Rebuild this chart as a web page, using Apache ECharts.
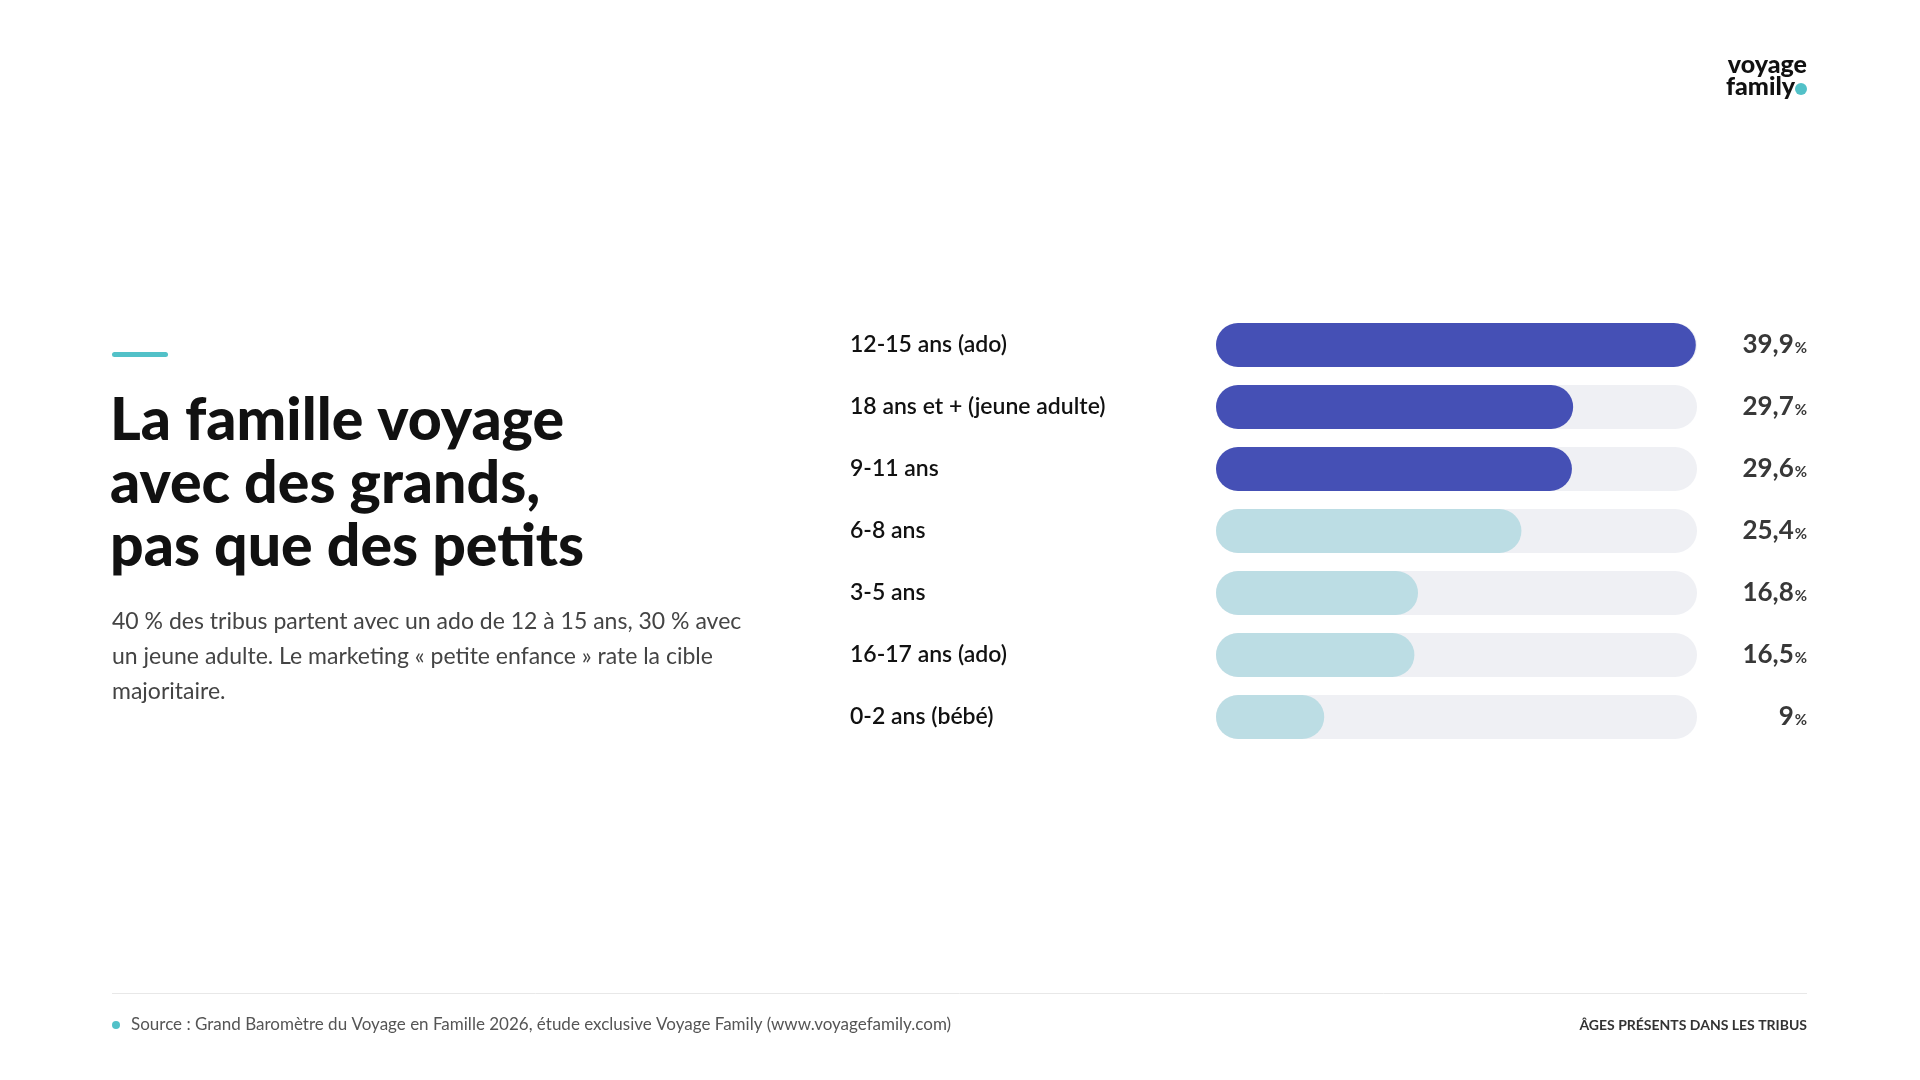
<!DOCTYPE html>
<html>
<head>
<meta charset="utf-8">
<title>Âges présents dans les tribus</title>
<script src="https://cdn.jsdelivr.net/npm/echarts@6/dist/echarts.min.js"></script>
<style>
  html, body { margin: 0; padding: 0; background: #fff; }
  #chart { width: 1920px; height: 1080px; }
</style>
</head>
<body>
<div id="chart"></div>
<script>
// données
const categories = ['12-15 ans (ado)', '18 ans et + (jeune adulte)', '9-11 ans', '6-8 ans', '3-5 ans', '16-17 ans (ado)', '0-2 ans (bébé)']
const values = [39.9, 29.7, 29.6, 25.4, 16.8, 16.5, 9]
const highlight = [true, true, true, false, false, false, false]

const FONT = 'Lato, "Noto Sans", sans-serif'
const DARK = '#4550b5'
const LIGHT = '#bcdde4'
const TRACK = '#eff0f4'
const TEAL = '#52c1c8'

const fmt = v => String(v).replace('.', ',')

let myChart = echarts.init(document.getElementById('chart'))

myChart.setOption({
    animation: false,
    backgroundColor: '#ffffff',
    grid: {
        left: 1216,
        width: 481,
        top: 314,
        height: 434,
        containLabel: false
    },
    xAxis: {
        type: 'value',
        min: 0,
        max: 40,
        show: false
    },
    yAxis: [
        {
            type: 'category',
            inverse: true,
            data: categories,
            axisLine: { show: false },
            axisTick: { show: false },
            splitLine: { show: false },
            axisLabel: {
                align: 'left',
                margin: 1216 - 850,
                color: '#111111',
                fontFamily: FONT,
                fontSize: 23,
                fontWeight: 600
            }
        },
        {
            type: 'category',
            inverse: true,
            position: 'right',
            data: values.map(fmt),
            axisLine: { show: false },
            axisTick: { show: false },
            splitLine: { show: false },
            axisLabel: {
                align: 'right',
                margin: 1807 - 1697,
                formatter: v => '{n|' + v + '}{p|%}',
                rich: {
                    n: { fontFamily: FONT, fontSize: 26, fontWeight: 'bold', color: '#383838' },
                    p: { fontFamily: FONT, fontSize: 15, fontWeight: 'bold', color: '#383838', padding: [6, 0, 0, 1] }
                }
            }
        }
    ],
    series: [
        {
            type: 'bar',
            yAxisIndex: 0,
            barWidth: 44,
            showBackground: true,
            backgroundStyle: {
                color: TRACK,
                borderRadius: 22
            },
            itemStyle: { borderRadius: 22 },
            data: values.map((v, i) => ({
                value: v,
                itemStyle: { color: highlight[i] ? DARK : LIGHT }
            }))
        }
    ],
    graphic: [
        // logo
        {
            type: 'text', right: 113, top: 52,
            style: { text: 'voyage', font: '900 25px ' + FONT, fill: '#111', textAlign: 'right' }
        },
        {
            type: 'text', left: 1726, top: 74,
            style: { text: 'family', font: '900 25px ' + FONT, fill: '#111' }
        },
        { type: 'circle', shape: { cx: 1801, cy: 89, r: 6 }, style: { fill: TEAL } },
        // trait d'accent
        { type: 'rect', shape: { x: 112, y: 352, width: 56, height: 5, r: 2.5 }, style: { fill: TEAL } },
        // titre
        {
            type: 'text', left: 110, top: 389,
            style: {
                text: 'La famille voyage\navec des grands,\npas que des petits',
                font: '900 59px ' + FONT,
                lineHeight: 63,
                fill: '#111111'
            }
        },
        // sous-titre
        {
            type: 'text', left: 112, top: 604,
            style: {
                text: '40 % des tribus partent avec un ado de 12 à 15 ans, 30 % avec\nun jeune adulte. Le marketing « petite enfance » rate la cible\nmajoritaire.',
                font: '23px ' + FONT,
                lineHeight: 35,
                fill: '#444444'
            }
        },
        // pied de page
        { type: 'line', shape: { x1: 112, y1: 993.5, x2: 1807, y2: 993.5 }, style: { stroke: '#e8e8e8', lineWidth: 1 } },
        { type: 'circle', shape: { cx: 116, cy: 1025, r: 4 }, style: { fill: TEAL } },
        {
            type: 'text', left: 131, top: 1016,
            style: {
                text: 'Source : Grand Baromètre du Voyage en Famille 2026, étude exclusive Voyage Family (www.voyagefamily.com)',
                font: '17px ' + FONT,
                fill: '#555555'
            }
        },
        {
            type: 'text', right: 113, top: 1018,
            style: {
                text: 'ÂGES PRÉSENTS DANS LES TRIBUS',
                font: 'bold 14px ' + FONT,
                fill: '#333333'
            }
        }
    ]
})
</script>
</body>
</html>
